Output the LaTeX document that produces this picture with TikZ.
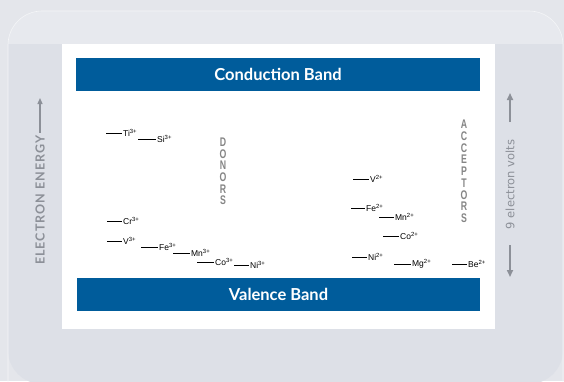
\documentclass[tikz,border=0pt]{standalone}
\usepackage{fontspec}
\setmainfont{Liberation Sans}
\newfontfamily\bandfont{Lato}
\newfontfamily\eefont[LetterSpace=8.5]{Lato}
\newfontfamily\narrowfont[FakeStretch=0.7]{Liberation Sans}
\newfontfamily\voltfont{DejaVu Sans}
\usetikzlibrary{arrows.meta}
\definecolor{bgouter}{HTML}{E4E6EB}
\definecolor{panel}{HTML}{DDE0E7}
\definecolor{panelTop}{HTML}{E7E9EE}
\definecolor{bandblue}{HTML}{005C9B}
\definecolor{labgray}{HTML}{8C9098}
\definecolor{lettergray}{HTML}{858585}
\newcommand{\ionch}[2]{#1\textsuperscript{#2}}
\begin{document}
\begin{tikzpicture}[x=1pt,y=-1pt,
  band/.style={fill=bandblue, draw=none, text=white, font=\bandfont\bfseries\fontsize{16.5}{16.5}\selectfont, inner sep=0pt},
  lvl/.style={line width=0.7pt, black},
  ion/.style={anchor=west, inner sep=0.8pt, font=\fontsize{8.5}{9}\selectfont},
  stack/.style={align=center, text=lettergray, inner sep=0pt},
  garrow/.style={labgray, line width=1.6pt, -{Triangle[length=7pt,width=6pt]}}]
\useasboundingbox (0,0) rectangle (564,381);
\fill[bgouter] (0,0) rectangle (564,381);
% panel
\begin{scope}
\clip[rounded corners=34pt] (8,11) rectangle (563,384);
\fill[panel] (0,0) rectangle (564,384);
\fill[panelTop] (0,0) rectangle (564,44);
\end{scope}
\draw[white!70!panel, line width=0.6pt, rounded corners=34pt] (8,384) -- (8,11) -- (563,11) -- (563,384);
% white sheet
\fill[white] (62,44) rectangle (495,329);
% bands
\node[band, minimum width=404pt, minimum height=33pt] (cb) at (278,74.5) {Conduction Band};
\node[band, minimum width=403pt, minimum height=33pt] (vb) at (278.5,294.5) {Valence Band};
% donors
\draw[lvl] (106,133) -- (122,133) node[ion] (ti) {\ionch{Ti}{3+}};
\draw[lvl] (138,139) -- (156,139) node[ion] (si) {\ionch{Si}{3+}};
\draw[lvl] (107,221) -- (122,221) node[ion] (cr) {\ionch{Cr}{3+}};
\draw[lvl] (107,241) -- (122,241) node[ion] (v3) {\ionch{V}{3+}};
\draw[lvl] (141,247) -- (158,247) node[ion] (fe3) {\ionch{Fe}{3+}};
\draw[lvl] (173,253) -- (190,253) node[ion] (mn3) {\ionch{Mn}{3+}};
\draw[lvl] (197,262) -- (214,262) node[ion] (co3) {\ionch{Co}{3+}};
\draw[lvl] (234,265) -- (249,265) node[ion] (ni3) {\ionch{Ni}{3+}};
% acceptors
\draw[lvl] (353,179) -- (369,179) node[ion] (v2) {\ionch{V}{2+}};
\draw[lvl] (351,208) -- (365,208) node[ion] (fe2) {\ionch{Fe}{2+}};
\draw[lvl] (379,217) -- (394,217) node[ion] (mn2) {\ionch{Mn}{2+}};
\draw[lvl] (383,236) -- (399,236) node[ion] (co2) {\ionch{Co}{2+}};
\draw[lvl] (352,257) -- (367,257) node[ion] (ni2) {\ionch{Ni}{2+}};
\draw[lvl] (394,264) -- (411,264) node[ion] (mg2) {\ionch{Mg}{2+}};
\draw[lvl] (452,264) -- (467,264) node[ion] (be2) {\ionch{Be}{2+}};
% stacked words
\node[stack, font=\narrowfont\bfseries\fontsize{12.5}{11.6}\selectfont] (donors) at (223,171.5) {D\\O\\N\\O\\R\\S};
\node[stack, font=\narrowfont\bfseries\fontsize{12.5}{11.75}\selectfont] (acceptors) at (464,171.5) {A\\C\\C\\E\\P\\T\\O\\R\\S};
% 9 electron volts
\node[rotate=90, text=labgray, inner sep=0pt, font=\voltfont\fontsize{11.5}{11.5}\selectfont] (ev) at (510,184.5) {9 electron volts};
\coordinate (evtop) at (510,93);
\coordinate (evbot) at (510,277);
\draw[garrow] (510,122) -- (evtop);
\draw[garrow] (510,245) -- (evbot);
% electron energy
\node[rotate=90, text=labgray, inner sep=0pt, font=\eefont\bfseries\fontsize{12.5}{12.5}\selectfont] (ee) at (40,200) {ELECTRON ENERGY};
\coordinate (eetip) at (40,98);
\draw[labgray, line width=1.3pt, shorten <=2pt, -{Triangle[length=6pt,width=5pt]}] (ee.east) -- (eetip);
\end{tikzpicture}
\end{document}
